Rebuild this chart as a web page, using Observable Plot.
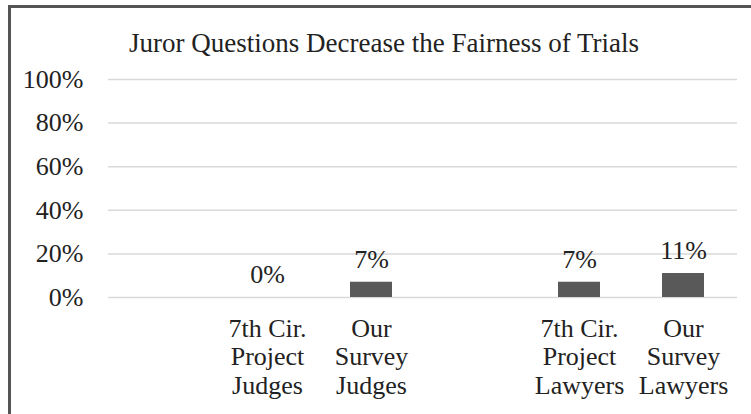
<!DOCTYPE html>
<html>
<head>
<meta charset="utf-8">
<script src="https://cdn.jsdelivr.net/npm/d3@7"></script>
<script src="https://cdn.jsdelivr.net/npm/@observablehq/plot@0.6"></script>
<style>
  html, body { margin: 0; padding: 0; background: #fff; }
  body { position: relative; width: 751px; height: 414px; overflow: hidden; font-family: "Liberation Serif", "Times New Roman", serif; }
  #frame { position: absolute; left: 8px; top: 5px; width: 760px; height: 430px; border: 3px solid #555555; box-sizing: border-box; }
  #title { position: absolute; left: 0; width: 768px; top: 27px; text-align: center; font-size: 27px; color: #222; line-height: 32px; white-space: nowrap; }
  #chart { position: absolute; left: 0; top: 60px; }
</style>
</head>
<body>
<div id="frame"></div>
<div id="title">Juror Questions Decrease the Fairness of Trials</div>
<div id="chart"></div>
<script>
const categories = ["7th Cir.\nProject\nJudges", "Our\nSurvey\nJudges", "7th Cir.\nProject\nLawyers", "Our\nSurvey\nLawyers"];
const values = [0, 7, 7, 11];
const yTicks = [0, 20, 40, 60, 80, 100];
const slots = ["gap-1", categories[0], categories[1], "gap-2", categories[2], categories[3]];

const data = categories.map((c, i) => ({category: c, value: values[i]}));

const chart = Plot.plot({
  width: 751,
  height: 354,
  marginLeft: 108,
  marginRight: 14,
  marginTop: 19,
  marginBottom: 117,
  style: {fontFamily: "'Liberation Serif', 'Times New Roman', serif", fontSize: "26px", color: "#222", background: "transparent"},
  x: {domain: slots, paddingInner: 0.6, paddingOuter: 0.3, axis: null},
  y: {domain: [0, 100], axis: null},
  marks: [
    Plot.ruleY(yTicks, {stroke: "#d9d9d9", strokeWidth: 1.5}),
    Plot.axisY({ticks: yTicks, tickFormat: d => d + "%", tickSize: 0, tickPadding: 25, label: null, fontSize: 26, fill: "#222"}),
    Plot.barY(data, {x: "category", y: "value", fill: "#595959"}),
    Plot.text(data, {x: "category", y: "value", text: d => d.value + "%", dy: -23, fontSize: 26, fill: "#222"}),
    Plot.text(categories, {x: d => d, y: 0, text: d => d, lineAnchor: "top", dy: 19, lineHeight: 1.1, fontSize: 26, fill: "#222"})
  ]
});
document.getElementById("chart").appendChild(chart);
</script>
</body>
</html>
